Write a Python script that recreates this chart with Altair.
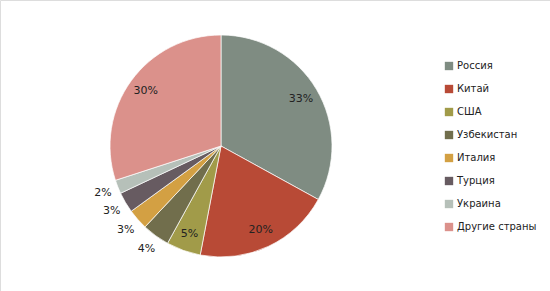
import altair as alt
import pandas as pd

countries = ["Россия", "Китай", "США", "Узбекистан", "Италия", "Турция", "Украина", "Другие страны"]
shares = [33, 20, 5, 4, 3, 3, 2, 30]
colors = ["#7f8c82", "#b84a36", "#a19b49", "#716e4c", "#d3a043", "#675b61", "#b6c0b9", "#db918b"]

df = pd.DataFrame({"country": countries, "share": shares, "idx": list(range(len(countries)))})
df["label"] = [f"{v}%" for v in shares]

cx, cy, R = 221, 146, 111

src = alt.Chart(df).transform_window(
    cum="sum(share)", sort=[alt.SortField("idx")], frame=[None, 0]
).transform_calculate(
    start="datum.cum - datum.share",
    mid="datum.cum - datum.share / 2",
    r="datum.share >= 5 ? 93 : 127",
)

theta_scale = alt.Scale(domain=[0, sum(shares)], range=[0, 6.283185307179586])

pie = src.mark_arc(outerRadius=R, stroke="white", strokeWidth=0.7).encode(
    theta=alt.Theta("start:Q", scale=theta_scale, stack=None),
    theta2="cum:Q",
    x=alt.value(cx),
    y=alt.value(cy),
    color=alt.Color(
        "country:N",
        sort=countries,
        scale=alt.Scale(domain=countries, range=colors),
        legend=alt.Legend(
            title=None,
            orient="none",
            legendX=444,
            legendY=61,
            symbolType="square",
            symbolSize=70,
            symbolStrokeWidth=0,
            rowPadding=13,
            labelFontSize=10,
            labelFont="DejaVu Sans",
            labelColor="#222222",
            labelOffset=3,
        ),
    ),
)

labels = src.mark_text(fontSize=11, font="DejaVu Sans", color="#222222").encode(
    theta=alt.Theta("mid:Q", scale=theta_scale, stack=None),
    radius=alt.Radius("r:Q", scale=None),
    x=alt.value(cx),
    y=alt.value(cy),
    text="label:N",
)

chart = alt.layer(pie, labels).properties(
    width=550, height=291, autosize=alt.AutoSizeParams(type="none"), padding=0
).configure_view(stroke=None).configure(background="white")

chart.save("out.html", embed_options={"renderer": "svg", "actions": False})
